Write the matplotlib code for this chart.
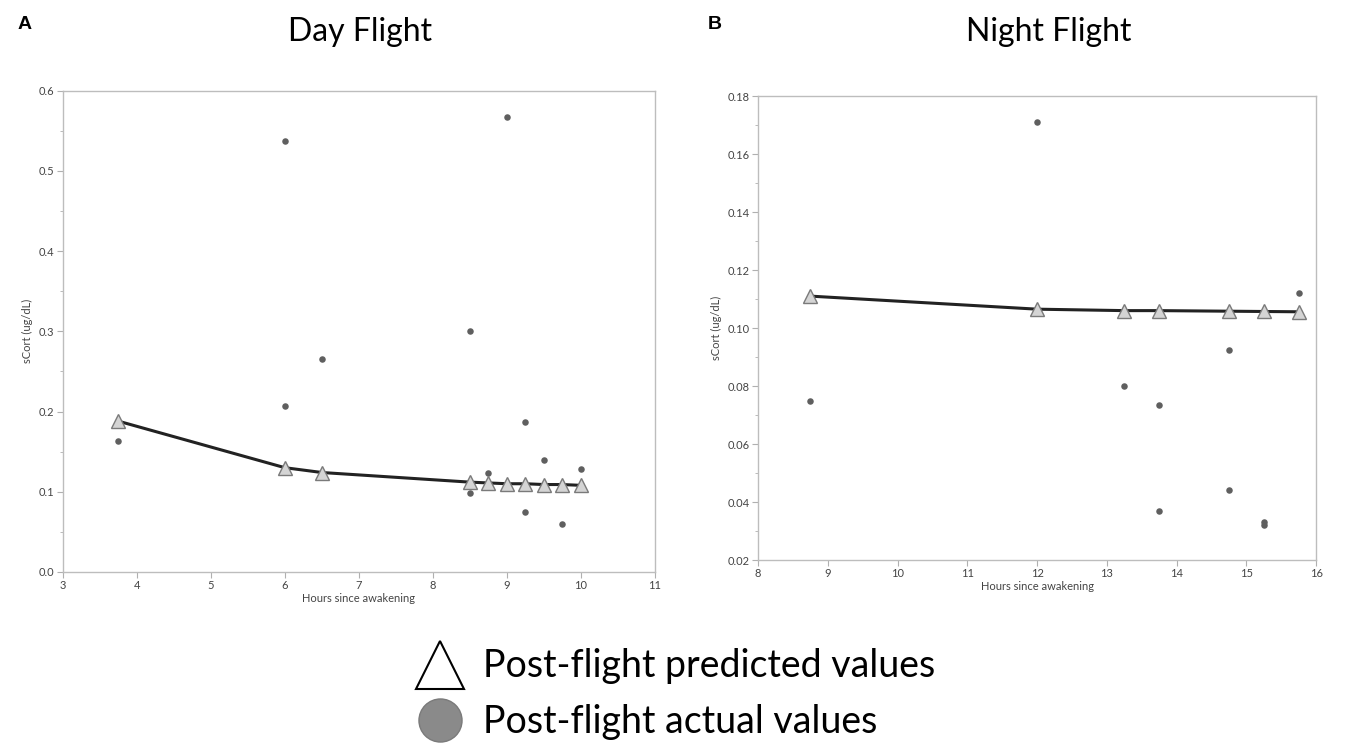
import matplotlib
matplotlib.use("Agg")
import matplotlib.pyplot as plt
from matplotlib.lines import Line2D
from matplotlib.ticker import MultipleLocator, FormatStrFormatter

plt.rcParams['font.family'] = ['Lato', 'DejaVu Sans']

# Day flight
day_pred_x = [3.75, 6.0, 6.5, 8.5, 8.75, 9.0, 9.25, 9.5, 9.75, 10.0]
day_pred_y = [0.188, 0.130, 0.124, 0.112, 0.111, 0.110, 0.110, 0.109, 0.109, 0.108]
day_act_x = [3.75, 6.0, 6.0, 6.5, 8.5, 8.5, 8.75, 9.0, 9.25, 9.25, 9.5, 9.75, 10.0]
day_act_y = [0.163, 0.537, 0.207, 0.265, 0.301, 0.099, 0.124, 0.567, 0.187, 0.075, 0.139, 0.060, 0.128]

# Night flight
night_pred_x = [8.75, 12.0, 13.25, 13.75, 14.75, 15.25, 15.75]
night_pred_y = [0.111, 0.1065, 0.106, 0.106, 0.1058, 0.1057, 0.1056]
night_act_x = [8.75, 12.0, 13.25, 13.75, 13.75, 14.75, 14.75, 15.25, 15.25, 15.75]
night_act_y = [0.075, 0.171, 0.080, 0.0735, 0.037, 0.0925, 0.044, 0.033, 0.032, 0.112]

fig = plt.figure(figsize=(13.45, 7.52), dpi=100)
fig.patch.set_facecolor("white")

ax1 = fig.add_axes([0.0468, 0.2394, 0.440, 0.640])
ax2 = fig.add_axes([0.5636, 0.2553, 0.4149, 0.6170])


def style_panel(ax, xlim, ylim, ymajor, yminor, yfmt):
    ax.set_xlim(*xlim)
    ax.set_ylim(*ylim)
    ax.xaxis.set_major_locator(MultipleLocator(1))
    ax.yaxis.set_major_locator(MultipleLocator(ymajor))
    ax.yaxis.set_minor_locator(MultipleLocator(yminor))
    ax.yaxis.set_major_formatter(FormatStrFormatter(yfmt))
    for sp in ax.spines.values():
        sp.set_color("#bdbdbd")
        sp.set_linewidth(1.0)
    ax.tick_params(axis="both", which="major", direction="out", length=4,
                   color="#b0b0b0", labelsize=8, labelcolor="#444444", pad=2)
    ax.tick_params(axis="y", which="minor", direction="out", length=2, color="#b0b0b0")
    ax.set_xlabel("Hours since awakening", fontsize=8, color="#444444", labelpad=1)
    ax.set_ylabel("sCort (ug/dL)", fontsize=8, color="#444444", labelpad=4)


def draw_panel(ax, px, py, axx, ay):
    ax.scatter(axx, ay, s=22, color="#5f5f5f", zorder=3, linewidths=0)
    ax.plot(px, py, color="#222222", lw=2.2, zorder=4, solid_capstyle="round",
            solid_joinstyle="round")
    ax.plot(px, py, ls="none", marker="^", markersize=10, markerfacecolor="#d4d4d4",
            markeredgecolor="#7a7a7a", markeredgewidth=1.0, zorder=5)


draw_panel(ax1, day_pred_x, day_pred_y, day_act_x, day_act_y)
style_panel(ax1, (3, 11), (0.0, 0.6), 0.1, 0.05, "%.1f")

draw_panel(ax2, night_pred_x, night_pred_y, night_act_x, night_act_y)
style_panel(ax2, (8, 16), (0.02, 0.18), 0.02, 0.01, "%.2f")

# titles and panel letters
fig.text(0.268, 0.958, "Day Flight", fontsize=23, ha="center", va="center")
fig.text(0.780, 0.958, "Night Flight", fontsize=23, ha="center", va="center")
fig.text(0.013, 0.968, "A", fontsize=14, fontweight="bold", ha="left", va="center",
         family=["Liberation Sans", "DejaVu Sans"])
fig.text(0.526, 0.968, "B", fontsize=14, fontweight="bold", ha="left", va="center",
         family=["Liberation Sans", "DejaVu Sans"])

# legend drawn below the panels
fig.add_artist(Line2D([0.327], [0.116], transform=fig.transFigure, marker="^",
                      markersize=34, markerfacecolor="white", markeredgecolor="black",
                      markeredgewidth=1.5, ls="none"))
fig.add_artist(Line2D([0.327], [0.043], transform=fig.transFigure, marker="o",
                      markersize=31, markerfacecolor="#8a8a8a", markeredgecolor="#7a7a7a",
                      markeredgewidth=1.0, ls="none"))
fig.text(0.359, 0.114, "Post-flight predicted values", fontsize=27, ha="left", va="center")
fig.text(0.359, 0.040, "Post-flight actual values", fontsize=27, ha="left", va="center")

fig.savefig("out.png", dpi=100, facecolor="white")
